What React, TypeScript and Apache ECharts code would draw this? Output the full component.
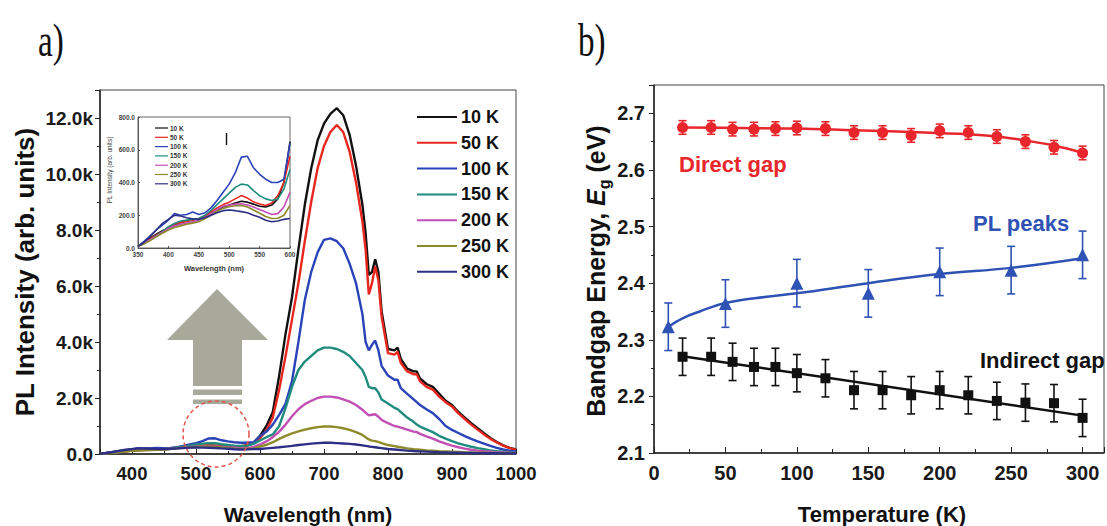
import React, { useEffect, useRef } from 'react';
import * as echarts from 'echarts';

// ---------- Panel a: PL spectra ----------
const wavelengths = [
  350, 360, 370, 380, 390, 400, 410, 420, 430, 440, 450, 460, 470, 480, 490, 500, 510, 520, 530, 540, 550, 560, 570, 580, 590, 600,
  610, 620, 630, 640, 650, 660, 670, 680, 690, 700, 710, 720, 730, 740, 750, 760,
  765, 770, 775, 780, 785, 790,
  800, 810, 815, 820, 830, 840, 845, 850,
  860, 870, 880, 890, 900, 910, 920, 930, 940, 950, 960, 970, 980, 990, 1000,
];
const pl10K = [
  10, 35, 60, 85, 105, 120, 140, 155, 165, 172, 178, 190, 210, 230, 250, 262, 275, 285, 280, 268, 255, 250, 262, 300, 400, 650,
  1000, 1500, 2800, 4300, 5600, 7300, 8900, 10200, 11200, 11800, 12150, 12350, 12100, 11400, 10300, 8900,
  7900, 6400, 6500, 6950, 6500, 5100,
  3750, 3700, 3800, 3400, 3050, 2950, 2950, 2700,
  2500, 2400, 2150, 1900, 1750, 1500, 1300, 1100, 920, 740, 570, 430, 310, 220, 160,
];
const pl50K = [
  10, 30, 55, 80, 100, 125, 145, 155, 162, 170, 180, 195, 220, 245, 265, 280, 300, 320, 305, 282, 268, 260, 275, 320, 400, 560,
  850, 1300, 2300, 3500, 4800, 6100, 7600, 9000, 10200, 11000, 11500, 11750, 11500, 10800, 9700, 8300,
  7300, 5700, 6100, 6700, 6200, 4900,
  3600, 3550, 3650, 3250, 2950, 2850, 2850, 2600,
  2400, 2300, 2050, 1850, 1700, 1450, 1250, 1050, 870, 700, 540, 410, 300, 210, 150,
];
const pl100K = [
  10, 40, 75, 110, 140, 170, 210, 200, 205, 220, 205, 215, 245, 290, 340, 390, 460, 555, 560, 490, 450, 420, 400, 400, 420, 640,
  800, 1050, 1400, 1800, 2600, 4000, 5500, 6500, 7200, 7650, 7700, 7600, 7350, 6800, 6100, 5000,
  4000, 3700, 3900, 4050, 3700, 3150,
  2800, 2650, 2650, 2350, 2150, 1950, 1850, 1750,
  1600, 1460, 1250, 1000, 860, 750, 640, 540, 450, 370, 290, 220, 160, 120, 90,
];
const pl150K = [
  10, 30, 50, 75, 100, 130, 150, 165, 170, 175, 180, 200, 230, 265, 300, 335, 370, 390, 385, 350, 320, 300, 290, 300, 360, 480,
  600, 700, 1000, 1650, 2400, 3000, 3300, 3500, 3700, 3800, 3800, 3750, 3650, 3500, 3250, 3000,
  2750, 2400, 2350, 2350, 2200, 1950,
  1800, 1650, 1600, 1500, 1300, 1150, 1050, 980,
  880, 780, 650, 550, 460, 380, 320, 260, 210, 170, 130, 100, 80, 60, 50,
];
const pl200K = [
  10, 28, 50, 72, 95, 120, 135, 145, 152, 160, 168, 185, 210, 235, 255, 262, 268, 270, 262, 250, 235, 220, 205, 210, 250, 340,
  450, 600, 800, 1050, 1350, 1600, 1780, 1900, 2000, 2050, 2050, 2020, 1950, 1870, 1750, 1580,
  1480, 1380, 1400, 1420, 1330, 1220,
  1100, 1000, 980, 940, 870, 800, 780, 720,
  630, 550, 450, 370, 300, 240, 190, 150, 120, 100, 80, 65, 55, 45, 40,
];
const pl250K = [
  10, 25, 45, 68, 90, 110, 125, 135, 145, 152, 160, 178, 200, 225, 242, 252, 258, 260, 250, 232, 212, 192, 180, 182, 200, 260,
  330, 420, 540, 650, 740, 810, 870, 920, 960, 980, 980, 960, 920, 860, 780, 680,
  600, 520, 480, 460, 430, 390,
  320, 280, 260, 240, 200, 170, 160, 150,
  130, 115, 100, 90, 80, 70, 60, 55, 50, 45, 40, 35, 32, 30, 28,
];
const pl300K = [
  10, 35, 70, 110, 150, 175, 200, 195, 185, 178, 175, 185, 200, 215, 228, 232, 228, 222, 215, 200, 188, 170, 160, 165, 175, 180,
  200, 220, 240, 265, 290, 320, 345, 370, 390, 400, 400, 390, 375, 360, 340, 310,
  290, 270, 255, 240, 225, 210,
  180, 160, 150, 140, 120, 105, 100, 95,
  85, 75, 65, 58, 50, 45, 40, 36, 32, 30, 28, 26, 24, 22, 20,
];
const spectraLabels = ['10 K', '50 K', '100 K', '150 K', '200 K', '250 K', '300 K'];
const spectraColors = ['#111111', '#e8271f', '#2b43b8', '#1f8c7e', '#c24fb4', '#8e8b2c', '#2d2f85'];
const spectra = [pl10K, pl50K, pl100K, pl150K, pl200K, pl250K, pl300K];

// ---------- Panel b: bandgap vs temperature ----------
const tempsGap = [20, 40, 55, 70, 85, 100, 120, 140, 160, 180, 200, 220, 240, 260, 280, 300];
const directGap = [2.675, 2.675, 2.672, 2.672, 2.673, 2.674, 2.673, 2.666, 2.666, 2.661, 2.669, 2.666, 2.659, 2.65, 2.64, 2.63];
const directErr = [0.012, 0.012, 0.012, 0.012, 0.012, 0.012, 0.012, 0.012, 0.012, 0.012, 0.012, 0.012, 0.012, 0.012, 0.012, 0.012];
const indirectGap = [2.27, 2.27, 2.261, 2.252, 2.252, 2.241, 2.232, 2.211, 2.211, 2.202, 2.211, 2.202, 2.192, 2.189, 2.188, 2.162];
const indirectErr = [0.033, 0.033, 0.033, 0.033, 0.033, 0.033, 0.033, 0.033, 0.033, 0.033, 0.033, 0.033, 0.033, 0.033, 0.033, 0.033];
const tempsPL = [10, 50, 100, 150, 200, 250, 300];
const plPeaks = [2.323, 2.364, 2.4, 2.382, 2.42, 2.423, 2.45];
const plErr = [0.042, 0.042, 0.042, 0.042, 0.042, 0.042, 0.042];

const directFitT = [20, 60, 100, 140, 180, 220, 240, 260, 280, 300];
const directFitE = [2.675, 2.674, 2.673, 2.67, 2.667, 2.663, 2.659, 2.652, 2.643, 2.63];
const plFitT = [10, 20, 32, 50, 79, 100, 150, 200, 250, 300];
const plFitE = [2.323, 2.338, 2.35, 2.365, 2.376, 2.382, 2.4, 2.416, 2.427, 2.444];
const indirectFitT = [20, 300];
const indirectFitE = [2.271, 2.166];

const FONT = 'Liberation Sans, Arial, Helvetica, sans-serif';
const AX = '#222';

function errorBarSeries(temps: number[], vals: number[], errs: number[], color: string) {
  return {
    type: 'custom',
    xAxisIndex: 2,
    yAxisIndex: 2,
    z: 3,
    data: temps.map((t, i) => [t, vals[i], errs[i]]),
    renderItem: (params: any, api: any) => {
      const x = api.value(0);
      const y = api.value(1);
      const e = api.value(2);
      const top = api.coord([x, y + e]);
      const bot = api.coord([x, y - e]);
      const hw = 4;
      const st = { stroke: color, lineWidth: 1.6 };
      return {
        type: 'group',
        children: [
          { type: 'line', shape: { x1: top[0], y1: top[1], x2: bot[0], y2: bot[1] }, style: st },
          { type: 'line', shape: { x1: top[0] - hw, y1: top[1], x2: top[0] + hw, y2: top[1] }, style: st },
          { type: 'line', shape: { x1: bot[0] - hw, y1: bot[1], x2: bot[0] + hw, y2: bot[1] }, style: st },
        ],
      };
    },
  };
}

export default function App() {
  const ref = useRef<HTMLDivElement>(null);
  useEffect(() => {
    if (!ref.current) return;
    const chart = echarts.init(ref.current, undefined, { renderer: 'svg' });

    const mainSeries = spectra.map((arr, k) => ({
      name: spectraLabels[k],
      type: 'line',
      xAxisIndex: 0,
      yAxisIndex: 0,
      showSymbol: false,
      data: wavelengths.map((w, i) => [w, arr[i]]),
      lineStyle: { color: spectraColors[k], width: 2.4 },
      itemStyle: { color: spectraColors[k] },
      z: 2 + k * 0.01,
    }));
    const insetSeries = spectra.map((arr, k) => ({
      name: spectraLabels[k] + ' inset',
      type: 'line',
      xAxisIndex: 1,
      yAxisIndex: 1,
      showSymbol: false,
      data: wavelengths.map((w, i) => [w, arr[i]]).filter((p) => p[0] <= 600),
      lineStyle: { color: spectraColors[k], width: 1.6 },
      itemStyle: { color: spectraColors[k] },
    }));

    const bold = (size: number, color = '#1a1a1a') => ({ fontFamily: FONT, fontWeight: 'bold', fontSize: size, color });

    const graphics: any[] = [];
    // panel titles
    graphics.push({ type: 'text', x: 38, y: 17, scaleX: 0.72, style: { text: 'a)', fontFamily: 'Liberation Serif, serif', fontSize: 46, fill: '#111' } });
    graphics.push({ type: 'text', x: 578, y: 17, scaleX: 0.72, style: { text: 'b)', fontFamily: 'Liberation Serif, serif', fontSize: 46, fill: '#111' } });
    // axis names
    graphics.push({ type: 'text', x: 25, y: 272, rotation: Math.PI / 2, style: { text: 'PL Intensity (arb. units)', align: 'center', verticalAlign: 'middle', fontFamily: FONT, fontWeight: 'bold', fontSize: 26, fill: '#111' } });
    graphics.push({ type: 'text', x: 308, y: 514, style: { text: 'Wavelength (nm)', align: 'center', verticalAlign: 'middle', fontFamily: FONT, fontWeight: 'bold', fontSize: 21, fill: '#111' } });
    graphics.push({ type: 'text', x: 882, y: 514, style: { text: 'Temperature (K)', align: 'center', verticalAlign: 'middle', fontFamily: FONT, fontWeight: 'bold', fontSize: 22, fill: '#111' } });
    graphics.push({
      type: 'text', x: 596, y: 271, rotation: Math.PI / 2,
      style: {
        text: '{a|Bandgap Energy, }{i|E}{s|g}{a| (eV)}',
        align: 'center', verticalAlign: 'middle', fill: '#111',
        rich: {
          a: { fontFamily: FONT, fontWeight: 'bold', fontSize: 25, lineHeight: 32, fill: '#111' },
          i: { fontFamily: FONT, fontWeight: 'bold', fontStyle: 'italic', fontSize: 25, lineHeight: 32, fill: '#111' },
          s: { fontFamily: FONT, fontWeight: 'bold', fontSize: 16, lineHeight: 16, verticalAlign: 'bottom', fill: '#111' },
        },
      },
    });
    // main legend
    spectraLabels.forEach((lab, i) => {
      const y = 117 + i * 25.8;
      graphics.push({ type: 'line', shape: { x1: 417, y1: y, x2: 457, y2: y }, style: { stroke: spectraColors[i], lineWidth: 2 }, z: 50 });
      graphics.push({ type: 'text', x: 461, y: y, style: { text: lab, verticalAlign: 'middle', fontFamily: FONT, fontWeight: 'bold', fontSize: 18, fill: '#111' }, z: 50 });
    });
    // inset legend
    spectraLabels.forEach((lab, i) => {
      const y = 128 + i * 9.3;
      graphics.push({ type: 'line', shape: { x1: 155, y1: y, x2: 168, y2: y }, style: { stroke: spectraColors[i], lineWidth: 1.2 }, z: 50 });
      graphics.push({ type: 'text', x: 170, y: y, style: { text: lab, verticalAlign: 'middle', fontFamily: FONT, fontWeight: 'bold', fontSize: 6.5, fill: '#333' }, z: 50 });
    });
    graphics.push({ type: 'line', shape: { x1: 226.5, y1: 133, x2: 226.5, y2: 145 }, style: { stroke: '#111', lineWidth: 1.4 }, z: 50 });
    // inset axis names
    graphics.push({ type: 'text', x: 214, y: 268, style: { text: 'Wavelength (nm)', align: 'center', verticalAlign: 'middle', fontFamily: FONT, fontWeight: 'bold', fontSize: 7.5, fill: '#333' } });
    graphics.push({ type: 'text', x: 109, y: 170, rotation: Math.PI / 2, style: { text: 'PL Intensity (arb. units)', align: 'center', verticalAlign: 'middle', fontFamily: FONT, fontSize: 6.5, fill: '#444' } });
    // grey arrow
    graphics.push({ type: 'polygon', shape: { points: [[193, 386], [193, 340], [167, 340], [217, 289], [268, 340], [242, 340], [242, 386]] }, style: { fill: '#a8a89b' }, z: 40 });
    graphics.push({ type: 'rect', shape: { x: 193, y: 389.5, width: 49, height: 5.5 }, style: { fill: '#a8a89b' }, z: 40 });
    graphics.push({ type: 'rect', shape: { x: 193, y: 399.5, width: 49, height: 4.5 }, style: { fill: '#a8a89b' }, z: 40 });
    // dashed circle
    graphics.push({ type: 'circle', shape: { cx: 216, cy: 434, r: 33 }, style: { fill: 'none', stroke: '#e0564e', lineWidth: 1.5, lineDash: [4, 3] }, z: 60 });
    // panel b annotations
    graphics.push({ type: 'text', x: 679, y: 164, style: { text: 'Direct gap', verticalAlign: 'middle', fontFamily: FONT, fontWeight: 'bold', fontSize: 22, fill: '#e8262b' }, z: 50 });
    graphics.push({ type: 'text', x: 973, y: 223, style: { text: 'PL peaks', verticalAlign: 'middle', fontFamily: FONT, fontWeight: 'bold', fontSize: 22, fill: '#2f52b5' }, z: 50 });
    graphics.push({ type: 'text', x: 980, y: 360, style: { text: 'Indirect gap', verticalAlign: 'middle', fontFamily: FONT, fontWeight: 'bold', fontSize: 22, fill: '#111' }, z: 50 });

    const option: any = {
      animation: false,
      backgroundColor: '#ffffff',
      grid: [
        { left: 100, top: 90, width: 416, height: 364, show: true, borderColor: '#444', borderWidth: 1, backgroundColor: 'transparent' },
        { left: 138, top: 117, width: 152, height: 131, show: true, borderColor: '#666', borderWidth: 1, backgroundColor: 'transparent' },
        { left: 654, top: 85, width: 450, height: 368, show: true, borderColor: '#444', borderWidth: 1, backgroundColor: 'transparent' },
      ],
      xAxis: [
        {
          gridIndex: 0, type: 'value', min: 350, max: 1000, splitNumber: 6,
          axisLine: { lineStyle: { color: AX, width: 1.5 } },
          axisTick: { inside: true, length: 5, lineStyle: { color: AX } },
          minorTick: { show: true, splitNumber: 2, length: 3, lineStyle: { color: AX } },
          axisLabel: { ...bold(18.5), margin: 10, showMinLabel: false, formatter: (v: number) => String(v) },
          splitLine: { show: false },
        },
        {
          gridIndex: 1, type: 'value', min: 350, max: 600, interval: 50,
          axisLine: { lineStyle: { color: '#555', width: 1 } },
          axisTick: { inside: true, length: 2, lineStyle: { color: '#555' } },
          axisLabel: { ...bold(6.5, '#444'), margin: 3, formatter: (v: number) => String(v) },
          splitLine: { show: false },
        },
        {
          gridIndex: 2, type: 'value', min: 0, max: 315, interval: 50,
          axisLine: { lineStyle: { color: AX, width: 1.5 } },
          axisTick: { inside: true, length: 6, lineStyle: { color: AX } },
          minorTick: { show: true, splitNumber: 2, length: 4, lineStyle: { color: AX } },
          axisLabel: { ...bold(20), margin: 10, showMaxLabel: false, formatter: (v: number) => (v > 300 ? '' : String(v)) },
          splitLine: { show: false },
        },
      ],
      yAxis: [
        {
          gridIndex: 0, type: 'value', min: 0, max: 13000, interval: 2000,
          axisLine: { show: true, lineStyle: { color: AX, width: 1.5 } },
          axisTick: { show: true, inside: false, length: 5, lineStyle: { color: AX } },
          minorTick: { show: true, splitNumber: 2, length: 3, lineStyle: { color: AX } },
          axisLabel: {
            ...bold(19), margin: 7, showMaxLabel: false,
            formatter: (v: number) => (v === 0 ? '0.0' : v > 12000 ? '' : (v / 1000).toFixed(1) + 'k'),
          },
          splitLine: { show: false },
        },
        {
          gridIndex: 1, type: 'value', min: 0, max: 800, interval: 200,
          axisLine: { show: true, lineStyle: { color: '#555', width: 1 } },
          axisTick: { show: true, inside: true, length: 2, lineStyle: { color: '#555' } },
          axisLabel: { ...bold(6.5, '#444'), margin: 3, formatter: (v: number) => v.toFixed(1) },
          splitLine: { show: false },
        },
        {
          gridIndex: 2, type: 'value', min: 2.1, max: 2.75, interval: 0.1,
          axisLine: { show: true, lineStyle: { color: AX, width: 1.5 } },
          axisTick: { show: true, inside: false, length: 5, lineStyle: { color: AX } },
          minorTick: { show: true, splitNumber: 2, length: 3, lineStyle: { color: AX } },
          axisLabel: { ...bold(20), margin: 9, showMaxLabel: false, formatter: (v: number) => (v > 2.71 ? '' : v.toFixed(1)) },
          splitLine: { show: false },
        },
      ],
      series: [
        ...mainSeries,
        ...insetSeries,
        {
          type: 'line', xAxisIndex: 2, yAxisIndex: 2, showSymbol: false, smooth: 0.4, z: 2,
          data: directFitT.map((t, i) => [t, directFitE[i]]), lineStyle: { color: '#e8262b', width: 2.5 },
        },
        {
          type: 'line', xAxisIndex: 2, yAxisIndex: 2, showSymbol: false, smooth: 0.4, z: 2,
          data: plFitT.map((t, i) => [t, plFitE[i]]), lineStyle: { color: '#2f52b5', width: 2.5 },
        },
        {
          type: 'line', xAxisIndex: 2, yAxisIndex: 2, showSymbol: false, z: 2,
          data: indirectFitT.map((t, i) => [t, indirectFitE[i]]), lineStyle: { color: '#111', width: 2.5 },
        },
        errorBarSeries(tempsGap, directGap, directErr, '#e8262b'),
        errorBarSeries(tempsPL, plPeaks, plErr, '#2f52b5'),
        errorBarSeries(tempsGap, indirectGap, indirectErr, '#111'),
        {
          type: 'scatter', xAxisIndex: 2, yAxisIndex: 2, symbol: 'circle', symbolSize: 11, z: 4,
          data: tempsGap.map((t, i) => [t, directGap[i]]), itemStyle: { color: '#e8262b', opacity: 1 },
        },
        {
          type: 'scatter', xAxisIndex: 2, yAxisIndex: 2, symbol: 'triangle', symbolSize: 13, z: 4,
          data: tempsPL.map((t, i) => [t, plPeaks[i]]), itemStyle: { color: '#2f52b5', opacity: 1 },
        },
        {
          type: 'scatter', xAxisIndex: 2, yAxisIndex: 2, symbol: 'rect', symbolSize: 10, z: 4,
          data: tempsGap.map((t, i) => [t, indirectGap[i]]), itemStyle: { color: '#111', opacity: 1 },
        },
      ],
      graphic: { elements: graphics },
    };
    chart.setOption(option);
    return () => chart.dispose();
  }, []);
  return <div ref={ref} style={{ position: 'absolute', left: 0, top: 0, width: 1107, height: 526, background: '#fff' }} />;
}
